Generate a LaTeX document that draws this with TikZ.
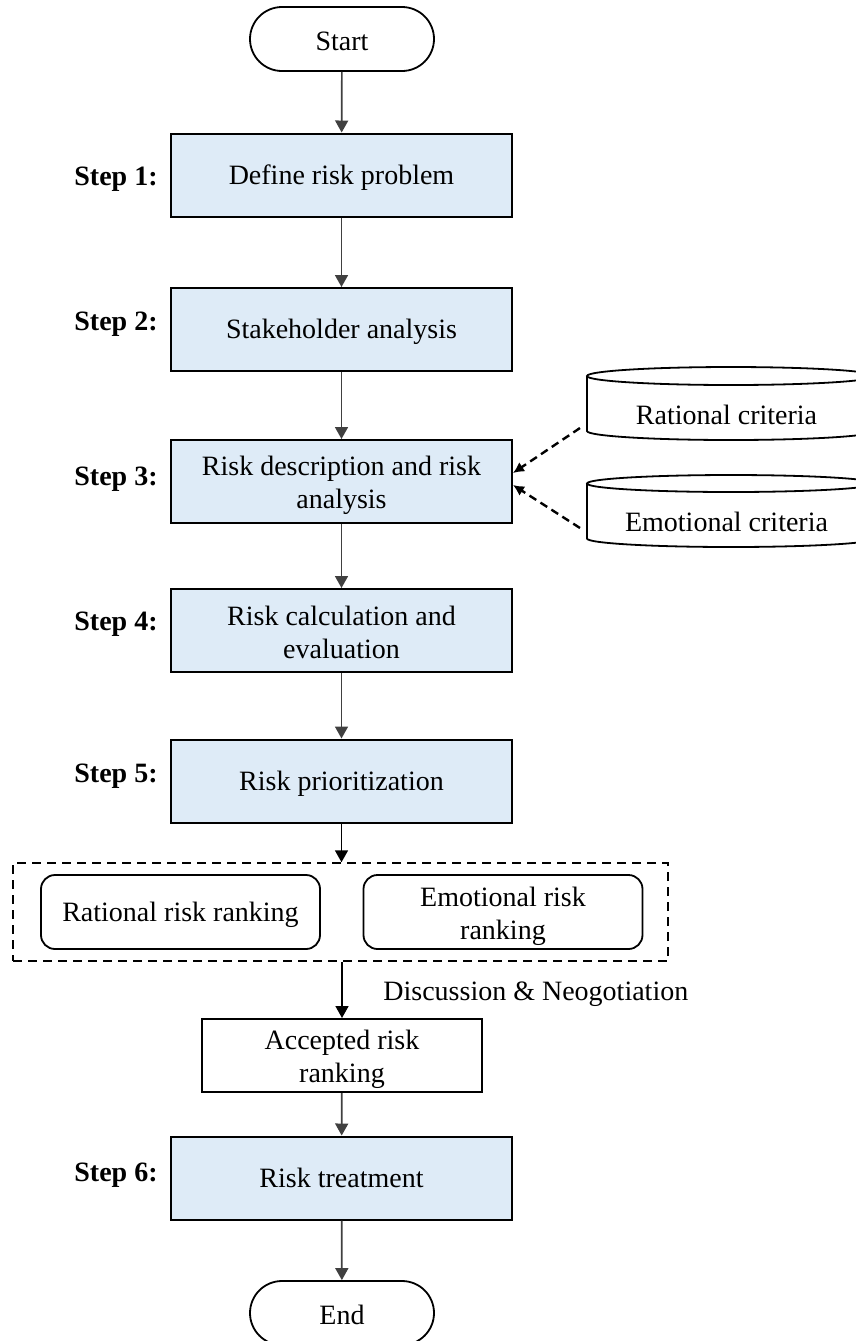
\documentclass[tikz,border=0pt]{standalone}
\usepackage{fontspec}
\setmainfont{Liberation Serif}
\usetikzlibrary{arrows.meta}
\definecolor{stepblue}{RGB}{222,235,247}
\definecolor{arrgray}{RGB}{64,64,64}
\newcommand{\stxtA}[1]{\rule[-3pt]{0pt}{15.5pt}#1}
\newcommand{\stxtB}[2]{\rule{0pt}{14pt}#1\\#2\rule[-3pt]{0pt}{0pt}}
\newcommand{\stxtT}[1]{\rule[-3pt]{0pt}{17pt}#1}
\begin{document}
\begin{tikzpicture}[x=0.5pt,y=-0.5pt,
  every node/.style={font=\fontsize{14}{16.5}\selectfont},
  stepbox/.style={draw, line width=1pt, fill=stepblue, minimum width=170.5pt, minimum height=41.5pt, align=center, inner sep=0pt},
  steplabel/.style={font=\fontsize{14}{16.5}\selectfont\bfseries, inner sep=0pt, anchor=east},
  term/.style={draw, line width=0.9pt, rounded corners=16pt, minimum width=92pt, minimum height=32pt, inner sep=0pt},
  plainbox/.style={draw, line width=1pt, minimum width=140pt, minimum height=36.5pt, align=center, inner sep=0pt},
  rankbox/.style={draw, line width=0.9pt, rounded corners=7pt, minimum width=139.5pt, minimum height=37pt, align=center, inner sep=0pt},
  groupbox/.style={draw, line width=0.75pt, dash pattern=on 4.5pt off 3pt, minimum width=327.5pt, minimum height=49pt, inner sep=0pt},
  cyl/.style={draw, line width=0.9pt},
  flow/.style={draw=arrgray, line width=0.85pt, -{Triangle[length=6pt,width=6.5pt]}},
  flowblack/.style={draw=black, line width=0.85pt, -{Triangle[length=6pt,width=6.5pt]}},
  feed/.style={draw=black, line width=1.2pt, dash pattern=on 4pt off 2.5pt, -{Latex[length=5.5pt,width=5.5pt]}}
]
\useasboundingbox (0,0) rectangle (856,1341);

% terminals
\node[term] (start) at (342,39) {\stxtT{Start}};
\node[term] (end) at (342,1313) {\stxtT{End}};

% steps
\node[stepbox] (s1) at (341.5,175) {\stxtA{Define risk problem}};
\node[stepbox] (s2) at (341.5,329.5) {\stxtA{Stakeholder analysis}};
\node[stepbox] (s3) at (341.5,481.5) {\stxtB{Risk description and risk}{analysis}};
\node[stepbox] (s4) at (341.5,630.5) {\stxtB{Risk calculation and}{evaluation}};
\node[stepbox] (s5) at (341.5,781) {\stxtA{Risk prioritization}};
\node[stepbox] (s6) at (341.5,1178) {\stxtA{Risk treatment}};

% step labels
\node[steplabel] (l1) at (158,179) {Step 1:};
\node[steplabel] (l2) at (158,324) {Step 2:};
\node[steplabel] (l3) at (158,479) {Step 3:};
\node[steplabel] (l4) at (158,624) {Step 4:};
\node[steplabel] (l5) at (158,776) {Step 5:};
\node[steplabel] (l6) at (158,1175) {Step 6:};

% cylinders
\draw[cyl] (587,376) -- (587,431) arc[start angle=180,end angle=360,x radius=72pt,y radius=4.5pt] -- (875,376);
\draw[cyl] (731,376) ellipse [x radius=72pt, y radius=4.5pt];
\node (rat) at (726.5,415) {Rational criteria};
\draw[cyl] (587,483.5) -- (587,538.5) arc[start angle=180,end angle=360,x radius=72pt,y radius=4.25pt] -- (875,483.5);
\draw[cyl] (731,483.5) ellipse [x radius=72pt, y radius=4.25pt];
\node (emo) at (726.5,522) {Emotional criteria};
\coordinate (ratout) at (580,428);
\coordinate (emoout) at (580,528);

% ranking group
\node[groupbox] (grp) at (340.5,912) {};
\node[rankbox] (rr) at (180.5,912) {\stxtA{Rational risk ranking}};
\node[rankbox] (er) at (503,912) {\stxtB{Emotional risk}{ranking}};

\node[plainbox] (acc) at (342,1055.5) {\stxtB{Accepted risk}{ranking}};
\node[anchor=west, inner sep=0pt] (disc) at (383,994) {Discussion \& Neogotiation};

% connectors
\draw[flow] (start) -- (s1);
\draw[flow] (s1) -- (s2);
\draw[flow] (s2) -- (s3);
\draw[flow] (s3) -- (s4);
\draw[flow] (s4) -- (s5);
\draw[flowblack] (s5.south) -- (s5.south |- grp.north);
\draw[flowblack] (acc.north |- grp.south) -- (acc.north);
\draw[flow] (acc) -- (s6);
\draw[flow] (s6) -- (end);
\draw[feed] (ratout) -- ([yshift=4.25pt]s3.east);
\draw[feed] (emoout) -- ([yshift=-1.75pt]s3.east);
\end{tikzpicture}
\end{document}
